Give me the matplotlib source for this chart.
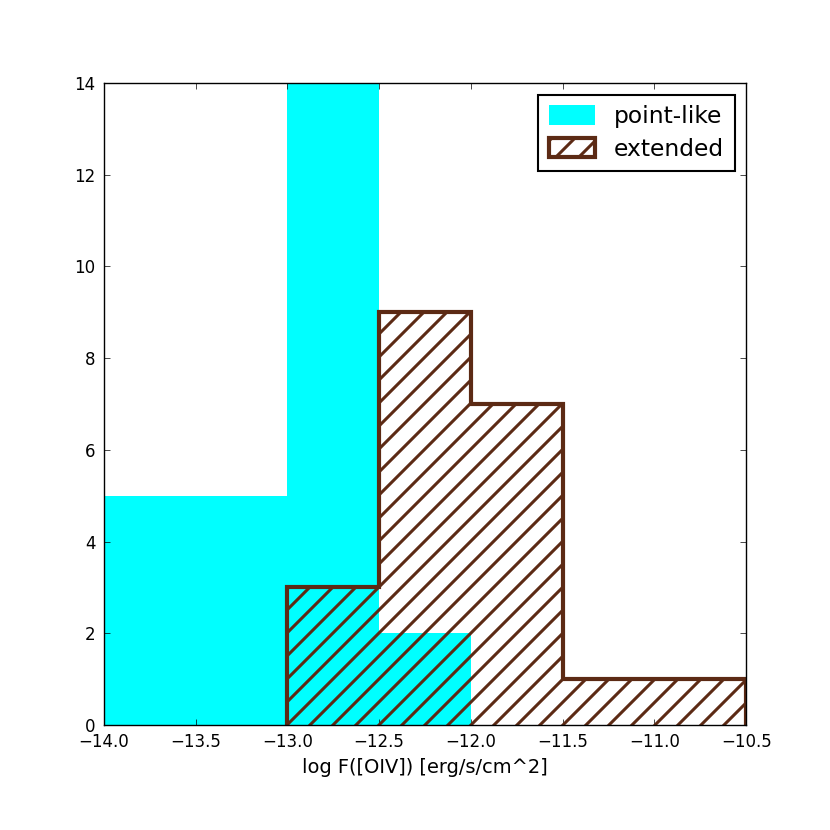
import numpy as np
import matplotlib
matplotlib.use('Agg')
from matplotlib import pyplot as plt

# histogram bins and counts
point_edges = [-14.0, -13.5, -13.0, -12.5, -12.0]
point_counts = [5, 5, 14, 2]
ext_edges = [-13.0, -12.5, -12.0, -11.5, -11.0, -10.5]
ext_counts = [3, 9, 7, 1, 1]

DPI = 830 / 6.0
s = 100.0 / DPI  # sizes given as if drawn at 100 dpi

plt.rcParams['font.family'] = 'DejaVu Sans'
plt.rcParams['font.size'] = 12 * s
plt.rcParams['hatch.linewidth'] = 2.2 * s
plt.rcParams['axes.linewidth'] = 1.0 * s
plt.rcParams['axes.unicode_minus'] = True
plt.rcParams['xtick.direction'] = 'in'
plt.rcParams['ytick.direction'] = 'in'
plt.rcParams['xtick.top'] = True
plt.rcParams['ytick.right'] = True
plt.rcParams['xtick.major.size'] = 4 * s
plt.rcParams['ytick.major.size'] = 4 * s
plt.rcParams['xtick.major.width'] = 0.5 * s
plt.rcParams['ytick.major.width'] = 0.5 * s
plt.rcParams['xtick.major.pad'] = 6 * s
plt.rcParams['ytick.major.pad'] = 6 * s

brown = '#5c2a14'

fig = plt.figure(figsize=(6, 6), dpi=DPI)
ax = fig.add_axes([0.125, 0.1265, 0.774, 0.7735])

ax.hist(point_edges[:-1], bins=point_edges, weights=point_counts,
        histtype='bar', color='#00ffff', edgecolor='none', rwidth=1.0,
        label='point-like')
ax.hist(ext_edges[:-1], bins=ext_edges, weights=ext_counts,
        histtype='step', fill=False, hatch='//', edgecolor=brown,
        linewidth=3 * s, label='extended')

ax.set_xlim(-14, -10.5)
ax.set_ylim(0, 14)
ax.set_xticks(np.arange(-14, -10.49, 0.5))
ax.set_yticks(range(0, 15, 2))
ax.set_xlabel('log F([OIV]) [erg/s/cm^2]', fontsize=14 * s, labelpad=5 * s)

leg = ax.legend(loc='upper right', fontsize=16.8 * s, fancybox=False,
                framealpha=1, borderaxespad=0.5, handlelength=2.0,
                handleheight=0.9, handletextpad=0.8, borderpad=0.45,
                labelspacing=0.4)
leg.get_frame().set_edgecolor('black')
leg.get_frame().set_linewidth(1.5 * s)

fig.savefig('out.png', dpi=DPI)
